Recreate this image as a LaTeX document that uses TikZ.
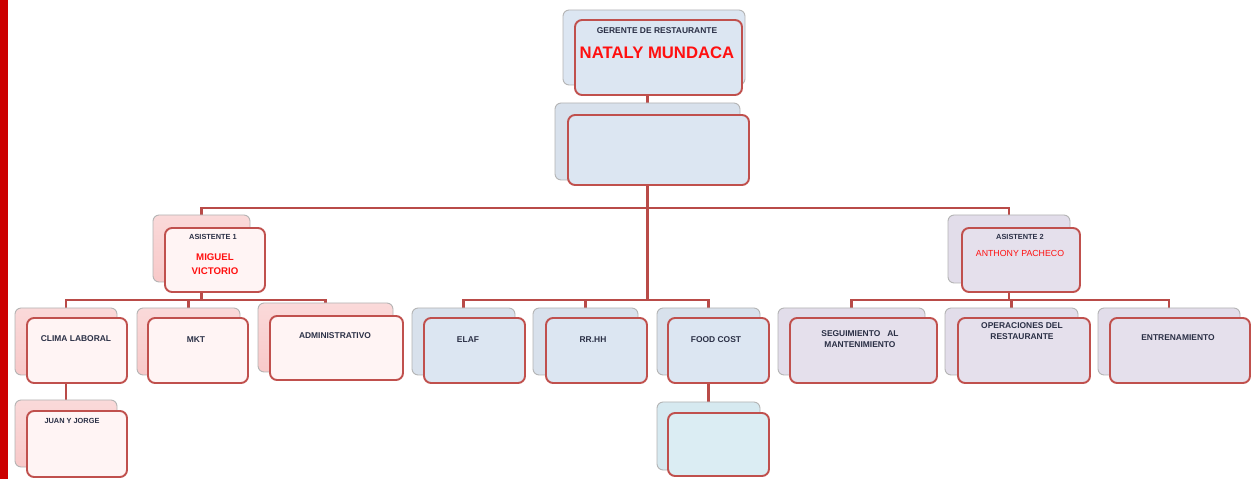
\documentclass[tikz,border=0pt]{standalone}
\usepackage{fontspec}
\setmainfont{Liberation Sans}
\usetikzlibrary{fit,backgrounds}
\definecolor{conn}{HTML}{B94B48}
\definecolor{frame}{HTML}{C0504D}
\definecolor{bluefill}{HTML}{DCE6F2}
\definecolor{blueback}{HTML}{D8E1EC}
\definecolor{pinkback}{HTML}{F8C9C9}
\definecolor{pinkfill}{HTML}{FFF4F4}
\definecolor{lavfill}{HTML}{E5E0EC}
\definecolor{lavback}{HTML}{E2DDEA}
\definecolor{cyanfill}{HTML}{DBEDF3}
\definecolor{cyanback}{HTML}{D6E9F0}
\definecolor{txtc}{HTML}{2A2F45}
\definecolor{namec}{HTML}{FF1010}
\definecolor{barc}{HTML}{CC0000}
\tikzset{
  backbox/.style={draw=gray!60, line width=0.5pt, rounded corners=3.5pt, inner sep=0pt},
  frontbox/.style={draw=frame, line width=1.1pt, rounded corners=4pt, inner sep=0pt},
  lbl/.style={text=txtc, font=\bfseries\fontsize{4.8}{6}\selectfont, align=center, inner sep=0pt},
  namelbl/.style={text=namec, font=\bfseries\fontsize{5.5}{8}\selectfont, align=center, inner sep=0pt},
  connector/.style={draw=conn, line width=1.3pt}
}
\begin{document}
\begin{tikzpicture}[x=0.02cm, y=-0.02cm]
\useasboundingbox (0,0) rectangle (1251,479);
\fill[barc] (0,0) rectangle (8,479);
% top
\node[backbox, fill=bluefill, fit={(563,10)(745,85)}] (gerb) {};
\node[frontbox, fill=bluefill, fit={(575,20)(742,95)}] (gerf) {};
\node[lbl] (gert) at (657,31) {GERENTE DE RESTAURANTE};
\node[text=namec, font=\bfseries\fontsize{9.5}{11}\selectfont, inner sep=0pt] (gern) at (657,53) {NATALY MUNDACA};
% second
\node[backbox, fill=blueback, fit={(555,103)(740,180)}] (midb) {};
\node[frontbox, fill=bluefill, fit={(568,115)(749,185)}] (midf) {};
% assistant 1
\node[backbox, top color=pinkback!70, bottom color=pinkback, fit={(153,215)(250,282)}] (a1b) {};
\node[frontbox, fill=pinkfill, fit={(165,228)(265,292)}] (a1f) {};
\node[lbl, font=\bfseries\fontsize{4.2}{5}\selectfont] (a1t) at (213,237) {ASISTENTE 1};
\node[namelbl] (a1n) at (215,264) {MIGUEL\\VICTORIO};
% assistant 2
\node[backbox, fill=lavback, fit={(948,215)(1070,283)}] (a2b) {};
\node[frontbox, fill=lavfill, fit={(962,228)(1080,292)}] (a2f) {};
\node[lbl, font=\bfseries\fontsize{4.2}{5}\selectfont] (a2t) at (1020,237) {ASISTENTE 2};
\node[namelbl, font=\fontsize{5}{6}\selectfont] (a2n) at (1020,253) {ANTHONY PACHECO};
% level 3 left
\node[backbox, top color=pinkback!70, bottom color=pinkback, fit={(15,308)(117,375)}] (clb) {};
\node[frontbox, fill=pinkfill, fit={(27,318)(127,383)}] (clf) {};
\node[lbl] (clt) at (76,339) {CLIMA LABORAL};
\node[backbox, top color=pinkback!70, bottom color=pinkback, fit={(137,308)(240,375)}] (mkb) {};
\node[frontbox, fill=pinkfill, fit={(148,318)(248,383)}] (mkf) {};
\node[lbl] (mkt) at (196,340) {MKT};
\node[backbox, top color=pinkback!70, bottom color=pinkback, fit={(258,303)(393,372)}] (adb) {};
\node[frontbox, fill=pinkfill, fit={(270,316)(403,380)}] (adf) {};
\node[lbl] (adt) at (335,336) {ADMINISTRATIVO};
\node[backbox, top color=pinkback!70, bottom color=pinkback, fit={(15,400)(117,467)}] (jjb) {};
\node[frontbox, fill=pinkfill, fit={(27,411)(127,477)}] (jjf) {};
\node[lbl, font=\bfseries\fontsize{4.2}{5}\selectfont] (jjt) at (72,421) {JUAN Y JORGE};
% level 3 middle
\node[backbox, fill=blueback, fit={(412,308)(515,375)}] (sfb) {};
\node[frontbox, fill=bluefill, fit={(424,318)(525,383)}] (sff) {};
\node[lbl] (sft) at (468,340) {ELAF};
\node[backbox, fill=blueback, fit={(533,308)(638,375)}] (rrb) {};
\node[frontbox, fill=bluefill, fit={(546,318)(647,383)}] (rrf) {};
\node[lbl] (rrt) at (593,340) {RR.HH};
\node[backbox, fill=blueback, fit={(657,308)(760,375)}] (fcb) {};
\node[frontbox, fill=bluefill, fit={(668,318)(769,383)}] (fcf) {};
\node[lbl] (fct) at (716,340) {FOOD COST};
\node[backbox, fill=cyanback, fit={(657,402)(760,470)}] (cyb) {};
\node[frontbox, fill=cyanfill, fit={(668,413)(769,476)}] (cyf) {};
% level 3 right
\node[backbox, fill=lavback, fit={(778,308)(925,375)}] (seb) {};
\node[frontbox, fill=lavfill, fit={(790,318)(937,383)}] (sef) {};
\node[lbl] (set) at (860,339) {SEGUIMIENTO\ \ \ AL\\MANTENIMIENTO};
\node[backbox, fill=lavback, fit={(945,308)(1078,375)}] (opb) {};
\node[frontbox, fill=lavfill, fit={(958,318)(1090,383)}] (opf) {};
\node[lbl] (opt) at (1022,331) {OPERACIONES DEL\\RESTAURANTE};
\node[backbox, fill=lavback, fit={(1098,308)(1240,375)}] (enb) {};
\node[frontbox, fill=lavfill, fit={(1110,318)(1250,383)}] (enf) {};
\node[lbl] (ent) at (1178,338) {ENTRENAMIENTO};
% bus coordinates
\coordinate (bus1) at (0,208);
\coordinate (bus2) at (0,300);
\begin{scope}[on background layer]
\draw[connector] (midb.north) -- (midb.north |- gerf.south);
\draw[connector] (midb.south) -- (midb.south |- bus1) -| (a1b.north);
\draw[connector] (midb.south |- bus1) -| (a2b.north);
\draw[connector] (midb.south |- bus1) -- (midb.south |- bus2) -| (sfb.north);
\draw[connector] (midb.south |- bus2) -| (rrb.north);
\draw[connector] (midb.south |- bus2) -| (fcb.north);
\draw[connector] (a1b.south) -- (a1b.south |- bus2) -| (clb.north);
\draw[connector] (a1b.south |- bus2) -| (mkb.north);
\draw[connector] (a1b.south |- bus2) -| (adb.north);
\draw[connector] (a2b.south) -- (a2b.south |- bus2) -| (seb.north);
\draw[connector] (a2b.south |- bus2) -| (opb.north);
\draw[connector] (a2b.south |- bus2) -| (enb.north);
\draw[connector] (clb.south) -- (jjb.north);
\draw[connector] (fcb.south) -- (cyb.north);
\end{scope}
\end{tikzpicture}
\end{document}
